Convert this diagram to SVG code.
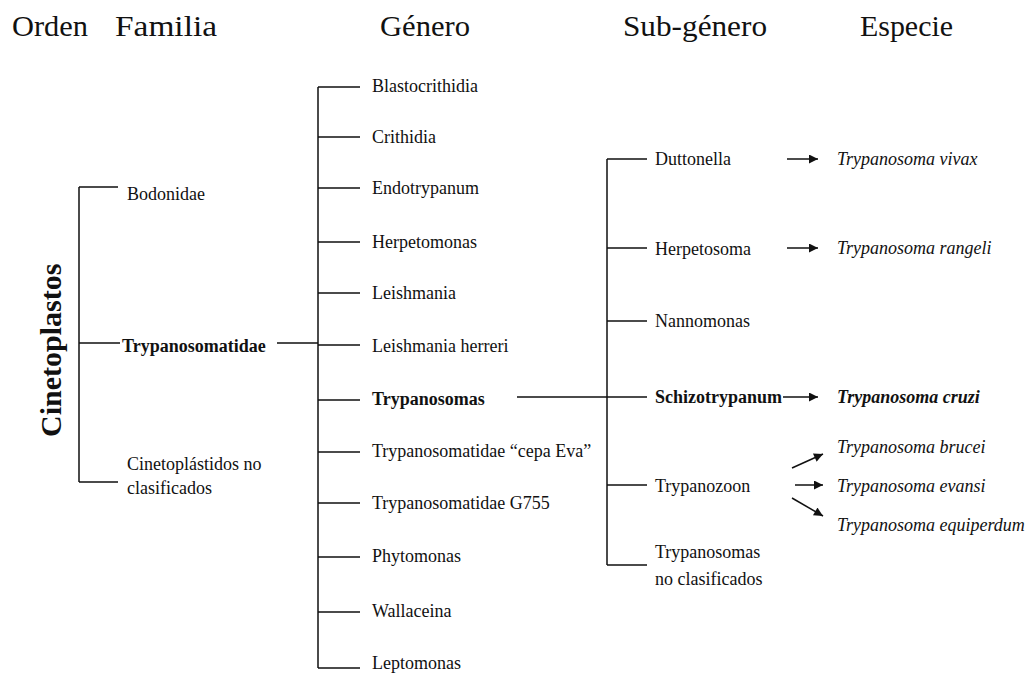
<svg xmlns="http://www.w3.org/2000/svg" width="1032" height="674" viewBox="0 0 1032 674">
<style>
text{font-family:"Liberation Serif","Times New Roman",serif;fill:#111}
.h{font-size:30px}
.t{font-size:18px}
.b{font-weight:bold}
.i{font-style:italic}
.ln{stroke:#111;stroke-width:1.5;fill:none}
</style>
<defs>
<marker id="ah" viewBox="0 0 10 10" refX="10" refY="5" markerWidth="11" markerHeight="9" markerUnits="userSpaceOnUse" orient="auto">
<path d="M0,0 L10,5 L0,10 z" fill="#111"/>
</marker>
</defs>
<rect width="1032" height="674" fill="#fff"/>
<g id="headers">
<text class="h" x="12" y="36" textLength="76" lengthAdjust="spacingAndGlyphs">Orden</text>
<text class="h" x="115" y="36" textLength="102" lengthAdjust="spacingAndGlyphs">Familia</text>
<text class="h" x="380" y="36" textLength="90" lengthAdjust="spacingAndGlyphs">Género</text>
<text class="h" x="623" y="36" textLength="144" lengthAdjust="spacingAndGlyphs">Sub-género</text>
<text class="h" x="860" y="36" textLength="93" lengthAdjust="spacingAndGlyphs">Especie</text>
</g>
<g id="connectors">
<path class="ln" d="M79,187 V482 M79,187 H118 M79,343 H120 M79,482 H118"/>
<path class="ln" d="M277,343 H318 M318,87 V668"/>
<path class="ln" d="M318,87 H360 M318,137 H360 M318,188 H360 M318,242 H360 M318,293 H360 M318,345 H360 M318,400 H360 M318,452 H360 M318,503 H360 M318,557 H360 M318,612 H360 M318,668 H360"/>
<path class="ln" d="M517,397 H647 M607,159 V565 M607,159 H647 M607,248 H647 M607,321 H647 M607,485 H647 M607,565 H647"/>
<path class="ln" marker-end="url(#ah)" d="M787,159 H818"/>
<path class="ln" marker-end="url(#ah)" d="M787,248 H818"/>
<path class="ln" marker-end="url(#ah)" d="M783,397 H818"/>
<path class="ln" marker-end="url(#ah)" d="M792,468 L823,454"/>
<path class="ln" marker-end="url(#ah)" d="M795,485 H823"/>
<path class="ln" marker-end="url(#ah)" d="M792,498 L823,516"/>
</g>
<g id="orden"><text class="b" font-size="30" transform="translate(61,437) rotate(-90)">Cinetoplastos</text></g>
<g id="familia">
<text class="t" x="127" y="200">Bodonidae</text>
<text class="t b" x="122" y="352">Trypanosomatidae</text>
<text class="t" x="127" y="470">Cinetoplástidos no</text>
<text class="t" x="127" y="494">clasificados</text>
</g>
<g id="genero">
<text class="t" x="372" y="92">Blastocrithidia</text>
<text class="t" x="372" y="143">Crithidia</text>
<text class="t" x="372" y="194">Endotrypanum</text>
<text class="t" x="372" y="248">Herpetomonas</text>
<text class="t" x="372" y="299">Leishmania</text>
<text class="t" x="372" y="352">Leishmania herreri</text>
<text class="t b" x="372" y="405">Trypanosomas</text>
<text class="t" x="372" y="457">Trypanosomatidae “cepa Eva”</text>
<text class="t" x="372" y="509">Trypanosomatidae G755</text>
<text class="t" x="372" y="562">Phytomonas</text>
<text class="t" x="372" y="617">Wallaceina</text>
<text class="t" x="372" y="669">Leptomonas</text>
</g>
<g id="subgenero">
<text class="t" x="655" y="165">Duttonella</text>
<text class="t" x="655" y="255">Herpetosoma</text>
<text class="t" x="655" y="327">Nannomonas</text>
<text class="t b" x="655" y="403">Schizotrypanum</text>
<text class="t" x="655" y="492">Trypanozoon</text>
<text class="t" x="655" y="558">Trypanosomas</text>
<text class="t" x="655" y="585">no clasificados</text>
</g>
<g id="especie">
<text class="t i" x="837" y="165">Trypanosoma vivax</text>
<text class="t i" x="837" y="254">Trypanosoma rangeli</text>
<text class="t i b" x="837" y="403">Trypanosoma cruzi</text>
<text class="t i" x="837" y="453">Trypanosoma brucei</text>
<text class="t i" x="837" y="492">Trypanosoma evansi</text>
<text class="t i" x="837" y="531">Trypanosoma equiperdum</text>
</g>
</svg>
